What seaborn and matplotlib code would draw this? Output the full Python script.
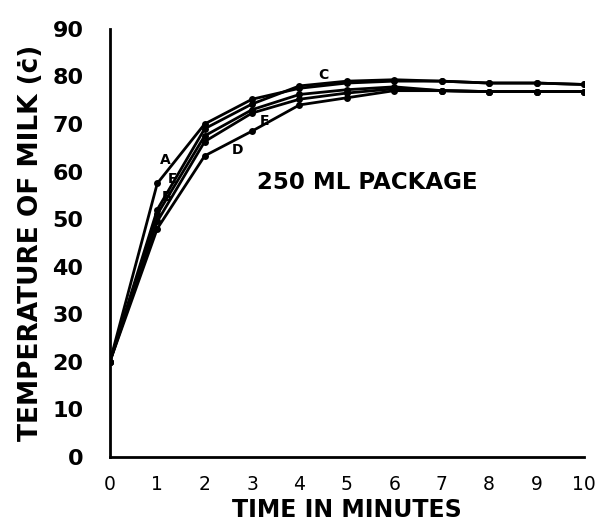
import matplotlib
matplotlib.use("Agg")
import matplotlib.pyplot as plt
import seaborn as sns
import pandas as pd

# Data
minutes = [0, 1, 2, 3, 4, 5, 6, 7, 8, 9, 10]
curve_A = [20, 57.5, 70.0, 75.2, 77.5, 78.6, 79.0, 79.0, 78.6, 78.6, 78.3]
curve_C = [20, 52.0, 69.0, 74.2, 78.0, 79.0, 79.3, 79.0, 78.6, 78.6, 78.3]
curve_B = [20, 51.0, 67.5, 73.0, 76.2, 77.2, 77.8, 77.0, 76.8, 76.8, 76.8]
curve_E = [20, 49.5, 66.3, 72.3, 75.2, 76.5, 77.4, 77.0, 76.8, 76.8, 76.8]
curve_D = [20, 48.0, 63.3, 68.5, 74.0, 75.5, 77.0, 77.0, 76.8, 76.8, 76.8]
series_names = ["A", "C", "B", "E", "D"]
x_ticks = [0, 1, 2, 3, 4, 5, 6, 7, 8, 9, 10]
y_ticks = [0, 10, 20, 30, 40, 50, 60, 70, 80, 90]

curves = {"A": curve_A, "C": curve_C, "B": curve_B, "E": curve_E, "D": curve_D}
rows = []
for name in series_names:
    for t, v in zip(minutes, curves[name]):
        rows.append({"time": t, "temp": v, "curve": name})
df = pd.DataFrame(rows)

sns.set_style("white")
plt.rcParams["font.family"] = ["DejaVu Sans"]
plt.rcParams["text.color"] = "black"
plt.rcParams["axes.labelcolor"] = "black"

fig = plt.figure(figsize=(6.07, 5.24), dpi=100)
ax = fig.add_axes([0.181, 0.128, 0.781, 0.817])

sns.lineplot(data=df, x="time", y="temp", hue="curve", style="curve",
             palette={n: "black" for n in series_names},
             markers={n: "o" for n in series_names},
             dashes={n: "" for n in series_names},
             linewidth=2.0, markersize=5, markeredgewidth=0,
             legend=False, ax=ax)

ax.set_xlim(0, 10)
ax.set_ylim(0, 90)
ax.set_xticks(x_ticks)
ax.set_yticks(y_ticks)
ax.set_xticklabels([str(t) for t in x_ticks], fontsize=13.5)
ax.set_yticklabels([str(t) for t in y_ticks], fontsize=16, fontweight="bold")
ax.tick_params(axis="both", direction="out", length=5, width=1.5, colors="black")
ax.tick_params(axis="x", pad=8)
ax.tick_params(axis="y", pad=14)

for s in ["top", "right"]:
    ax.spines[s].set_visible(False)
for s in ["left", "bottom"]:
    ax.spines[s].set_linewidth(2)
    ax.spines[s].set_color("black")

ax.set_xlabel("TIME IN MINUTES", fontsize=17, fontweight="bold", labelpad=3)
ax.set_ylabel("TEMPERATURE OF MILK (ċ)", fontsize=19, fontweight="bold", labelpad=6)

ax.text(3.1, 57.6, "250 ML PACKAGE", fontsize=16.5, fontweight="bold", va="center", ha="left")

label_pos = {"A": (1.16, 62.5), "E1": (1.33, 58.5), "B": (1.2, 54.6),
             "D": (2.7, 64.5), "E": (3.27, 70.6), "C": (4.5, 80.3)}
for key, (lx, ly) in label_pos.items():
    ax.text(lx, ly, key[0], fontsize=10, fontweight="bold", ha="center", va="center")

fig.savefig("out.png", dpi=100)
